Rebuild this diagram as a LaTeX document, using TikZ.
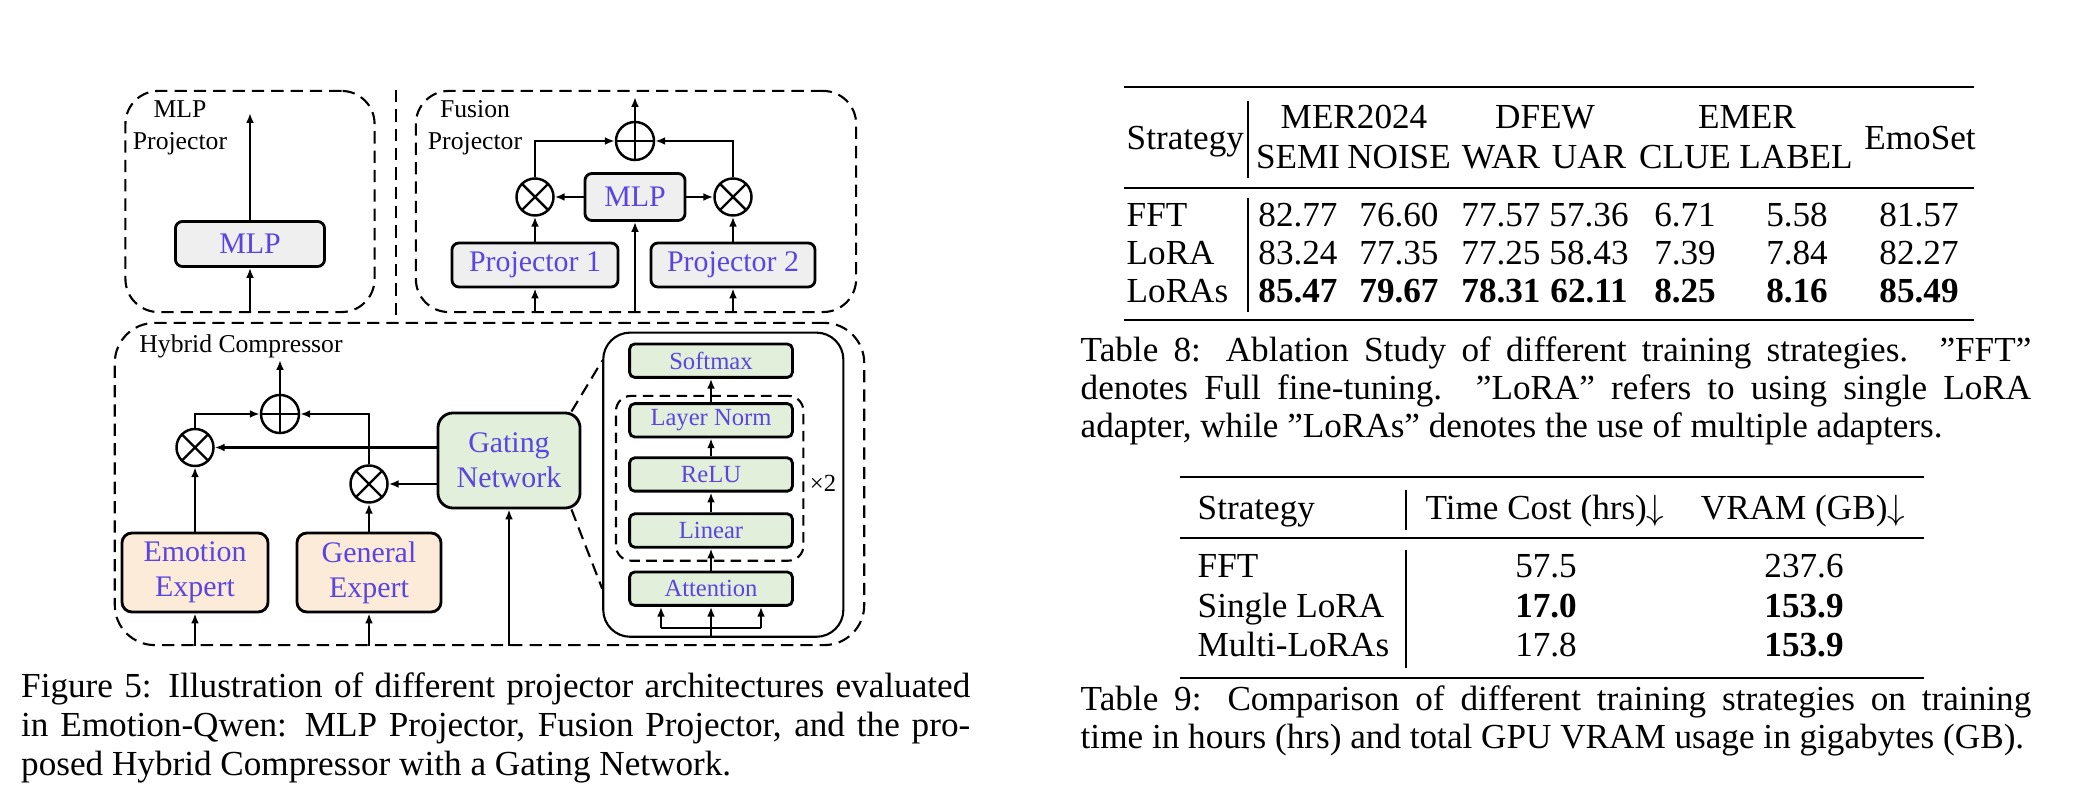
\documentclass[tikz,border=0pt]{standalone}
\usepackage{fontspec}
\setmainfont{Liberation Serif}
\usetikzlibrary{arrows.meta}
\definecolor{txtcol}{HTML}{5A45E0}
\definecolor{mlpfill}{HTML}{EFEFEF}
\definecolor{expfill}{HTML}{FBEBD8}
\definecolor{gatefill}{HTML}{E2EFDA}

\begin{document}
\begin{tikzpicture}[x=0.01cm, y=-0.01cm,
    block/.style={draw, line width=0.8pt, rounded corners=0.07cm, text=txtcol,
                  inner sep=0pt, align=center, font=\fontsize{8.5}{10}\selectfont},
    projblock/.style={block, fill=mlpfill},
    expblock/.style={block, fill=expfill, rounded corners=0.1cm},
    gateblock/.style={block, fill=gatefill},
    layer/.style={gateblock, minimum width=1.627cm, minimum height=0.333cm,
                  rounded corners=0.05cm, font=\fontsize{7}{8}\selectfont},
    panel/.style={draw, line width=0.6pt, dash pattern=on 3.5pt off 2pt,
                  rounded corners=0.33cm, inner sep=0pt},
    dashline/.style={line width=0.6pt, dash pattern=on 3.5pt off 2pt},
    opnode/.style={circle, draw, line width=0.7pt, minimum size=0.37cm, inner sep=0pt},
    oplus/.style={opnode, minimum size=0.38cm, path picture={
        \draw[line width=0.7pt] (path picture bounding box.north) -- (path picture bounding box.south)
                                (path picture bounding box.west) -- (path picture bounding box.east);}},
    otimes/.style={opnode, path picture={
        \draw[line width=0.7pt] (path picture bounding box.north west) -- (path picture bounding box.south east)
                                (path picture bounding box.north east) -- (path picture bounding box.south west);}},
    arr/.style={-{Latex[length=2.8pt, width=2.2pt]}, line width=0.7pt},
    paneltitle/.style={inner sep=0pt, align=center, font=\fontsize{7.3}{9.1}\selectfont},
    tcell/.style={anchor=base, inner sep=0pt, font=\fontsize{10}{11}\selectfont},
    captext/.style={anchor=base west, inner sep=0pt, font=\fontsize{10}{11}\selectfont},
  ]
  \useasboundingbox (0,0) rectangle (2088,810);

  % =========================================================
  %  MLP PROJECTOR
  % =========================================================
  \node[panel, minimum width=2.49cm, minimum height=2.21cm] (mlpbox) at (250,201.5) {};
  \node[paneltitle] (mlptitle) at (180,128) {MLP\\Projector};
  \node[projblock, minimum width=1.49cm, minimum height=0.45cm] (mlp) at (250,244) {MLP};
  \coordinate (mlpout) at (250,113);
  \draw[arr] (mlp.north) -- (mlpout);
  \draw[arr] (mlp |- mlpbox.south) -- (mlp.south);

  % divider between the two projectors
  \coordinate (divtop) at (396,90);
  \coordinate (divbot) at (396,318);
  \draw[dashline] (divtop) -- (divbot);

  % =========================================================
  %  FUSION PROJECTOR
  % =========================================================
  \node[panel, minimum width=4.40cm, minimum height=2.21cm] (fusbox) at (636,201.5) {};
  \node[paneltitle] (fustitle) at (475,128) {Fusion\\Projector};
  \node[oplus] (fsum) at (635,141) {};
  \node[otimes] (fx1) at (535,197) {};
  \node[otimes] (fx2) at (733,197) {};
  \node[projblock, minimum width=1.0cm, minimum height=0.47cm] (fmlp) at (635,197) {MLP};
  \node[projblock, minimum width=1.66cm, minimum height=0.44cm] (proj1) at (535,265) {Projector 1};
  \node[projblock, minimum width=1.64cm, minimum height=0.44cm] (proj2) at (733,265) {Projector 2};
  \coordinate (fusout) at (635,97);
  \draw[arr] (fsum.north) -- (fusout);
  \draw[arr] (fx1.north) |- (fsum.west);
  \draw[arr] (fx2.north) |- (fsum.east);
  \draw[arr] (fmlp.west) -- (fx1.east);
  \draw[arr] (fmlp.east) -- (fx2.west);
  \draw[arr] (proj1.north) -- (fx1.south);
  \draw[arr] (proj2.north) -- (fx2.south);
  \foreach \n in {proj1, fmlp, proj2}
    \draw[arr] (\n |- fusbox.south) -- (\n.south);

  % =========================================================
  %  HYBRID COMPRESSOR
  % =========================================================
  \node[panel, minimum width=7.49cm, minimum height=3.22cm, rounded corners=0.4cm] (hybbox) at (489.5,484) {};
  \node[paneltitle] (hybtitle) at (241,346) {Hybrid Compressor};
  \node[oplus] (hsum) at (280,414) {};
  \node[otimes] (hx1) at (195,447.5) {};
  \node[otimes] (hx2) at (369,484) {};
  \node[gateblock, minimum width=1.42cm, minimum height=0.95cm, rounded corners=0.15cm] (gate) at (509,460.5) {Gating\\Network};
  \node[expblock, minimum width=1.46cm, minimum height=0.79cm] (emo) at (195,572.5) {Emotion\\Expert};
  \node[expblock, minimum width=1.44cm, minimum height=0.79cm] (gen) at (369,572.5) {General\\Expert};
  \coordinate (hybout) at (280,360);
  \draw[arr] (hsum.north) -- (hybout);
  \draw[arr] (hx1.north) |- (hsum.west);
  \draw[arr] (hx2.north) |- (hsum.east);
  \draw[arr] (gate.west |- hx1) -- (hx1.east);
  \draw[arr] (gate.west |- hx2) -- (hx2.east);
  \draw[arr] (emo.north) -- (hx1.south);
  \draw[arr] (gen.north) -- (hx2.south);
  \foreach \n in {emo, gen, gate}
    \draw[arr] (\n |- hybbox.south) -- (\n.south);

  % gating network in detail
  \node[draw, line width=0.6pt, rounded corners=0.27cm, minimum width=2.40cm, minimum height=3.04cm] (detail) at (723.3,484.7) {};
  \node[panel, line width=0.6pt, dash pattern=on 3pt off 1.8pt, rounded corners=0.15cm,
        minimum width=1.873cm, minimum height=1.647cm] (rep) at (709.7,478.3) {};
  \node[layer] (soft) at (711,360.7) {Softmax};
  \node[layer] (lnorm) at (711,420.3) {Layer Norm};
  \node[layer] (relu) at (711,474.5) {ReLU};
  \node[layer] (lin) at (711,530.5) {Linear};
  \node[layer] (attn) at (711,588.7) {Attention};
  \node[inner sep=0pt, font=\fontsize{7}{8}\selectfont] (reptimes) at (823,483) {×2};
  \draw[arr] (attn.north) -- (lin.south);
  \draw[arr] (lin.north) -- (relu.south);
  \draw[arr] (relu.north) -- (lnorm.south);
  \draw[arr] (lnorm.north) -- (soft.south);
  \coordinate (ain1) at (661,628);
  \coordinate (ain2) at (761,628);
  \draw[line width=0.7pt] (ain1) -- (ain2);
  \draw[arr] (ain1) -- (ain1 |- attn.south);
  \draw[arr] (ain2) -- (ain2 |- attn.south);
  \draw[arr] (attn |- detail.south) -- (attn.south);
  % zoom lines
  \draw[dashline] ([xshift=-0.1cm]gate.north east) -- (detail.west |- soft);
  \draw[dashline] ([xshift=-0.1cm]gate.south east) -- (detail.west |- attn);

  % caption of the figure
  \node[captext] (cap5a) at (20.5,698) {\makebox[9.485cm][s]{Figure 5: Illustration of different projector architectures evaluated}};
  \node[captext] (cap5b) at (20.5,736.5) {\makebox[9.485cm][s]{in Emotion-Qwen: MLP Projector, Fusion Projector, and the pro-}};
  \node[captext] (cap5c) at (20.5,775) {posed Hybrid Compressor with a Gating Network.};

  % =========================================================
  %  TABLE 8
  % =========================================================
  \draw[line width=0.8pt] (1124,87) -- (1974,87);
  \draw[line width=0.5pt] (1124,188) -- (1974,188);
  \draw[line width=0.8pt] (1124,320) -- (1974,320);
  \draw[line width=0.4pt] (1248,101) -- (1248,178);
  \draw[line width=0.4pt] (1248,198) -- (1248,312);

  \node[tcell, anchor=base west] (t8strat) at (1126,150) {Strategy};
  \node[tcell] (t8emoset) at (1920,150) {EmoSet};
  \foreach \nm/\x/\txt in {mer/1354/MER2024, dfew/1545/DFEW, emer/1747/EMER}
    \node[tcell] (t8\nm) at (\x,129) {\txt};
  \foreach \nm/\x/\txt in {semi/1298/SEMI, noise/1399/NOISE, war/1501/WAR,
                           uar/1589/UAR, clue/1685/CLUE, lab/1796/LABEL}
    \node[tcell] (t8\nm) at (\x,169) {\txt};

  \foreach \lab/\yy/\ft/\va/\vb/\vc/\vd/\ve/\vf/\vg in {
      FFT/226.5/\mdseries/82.77/76.60/77.57/57.36/6.71/5.58/81.57,
      LoRA/264.5/\mdseries/83.24/77.35/77.25/58.43/7.39/7.84/82.27,
      LoRAs/302.5/\bfseries/85.47/79.67/78.31/62.11/8.25/8.16/85.49}{
    \node[tcell, anchor=base west] (t8\lab) at (1126,\yy) {\lab};
    \foreach \x/\v [count=\k] in {1298/\va, 1399/\vb, 1501/\vc, 1589/\vd,
                                  1685/\ve, 1797/\vf, 1919/\vg}
      \node[tcell] (t8\lab\k) at (\x,\yy) {\ft\v};
  }

  \node[captext] (cap8a) at (1080,362) {\makebox[9.5cm][s]{Table 8: Ablation Study of different training strategies. ”FFT”}};
  \node[captext] (cap8b) at (1080,400) {\makebox[9.5cm][s]{denotes Full fine-tuning. ”LoRA” refers to using single LoRA}};
  \node[captext] (cap8c) at (1080,438) {adapter, while ”LoRAs” denotes the use of multiple adapters.};

  % =========================================================
  %  TABLE 9
  % =========================================================
  \draw[line width=0.8pt] (1180,477) -- (1924,477);
  \draw[line width=0.5pt] (1180,538) -- (1924,538);
  \draw[line width=0.8pt] (1180,678) -- (1924,678);
  \draw[line width=0.4pt] (1406,490) -- (1406,530);
  \draw[line width=0.4pt] (1406,550) -- (1406,668);

  \node[tcell, anchor=base west] (t9strat) at (1197,520) {Strategy};
  \node[tcell] (t9time) at (1545,520) {Time Cost (hrs)$\downarrow$};
  \node[tcell] (t9vram) at (1803,520) {VRAM (GB)$\downarrow$};
  \foreach \nm/\lab/\yy/\va/\vb in {fft/FFT/578/57.5/237.6,
                                    single/Single LoRA/618/\textbf{17.0}/\textbf{153.9},
                                    multi/Multi-LoRAs/656.5/17.8/\textbf{153.9}}{
    \node[tcell, anchor=base west] (t9\nm) at (1197,\yy) {\lab};
    \node[tcell] (t9\nm time) at (1546,\yy) {\va};
    \node[tcell] (t9\nm vram) at (1804,\yy) {\vb};
  }

  \node[captext] (cap9a) at (1080,710) {\makebox[9.5cm][s]{Table 9: Comparison of different training strategies on training}};
  \node[captext] (cap9b) at (1080,748.5) {time in hours (hrs) and total GPU VRAM usage in gigabytes (GB).};

\end{tikzpicture}
\end{document}
